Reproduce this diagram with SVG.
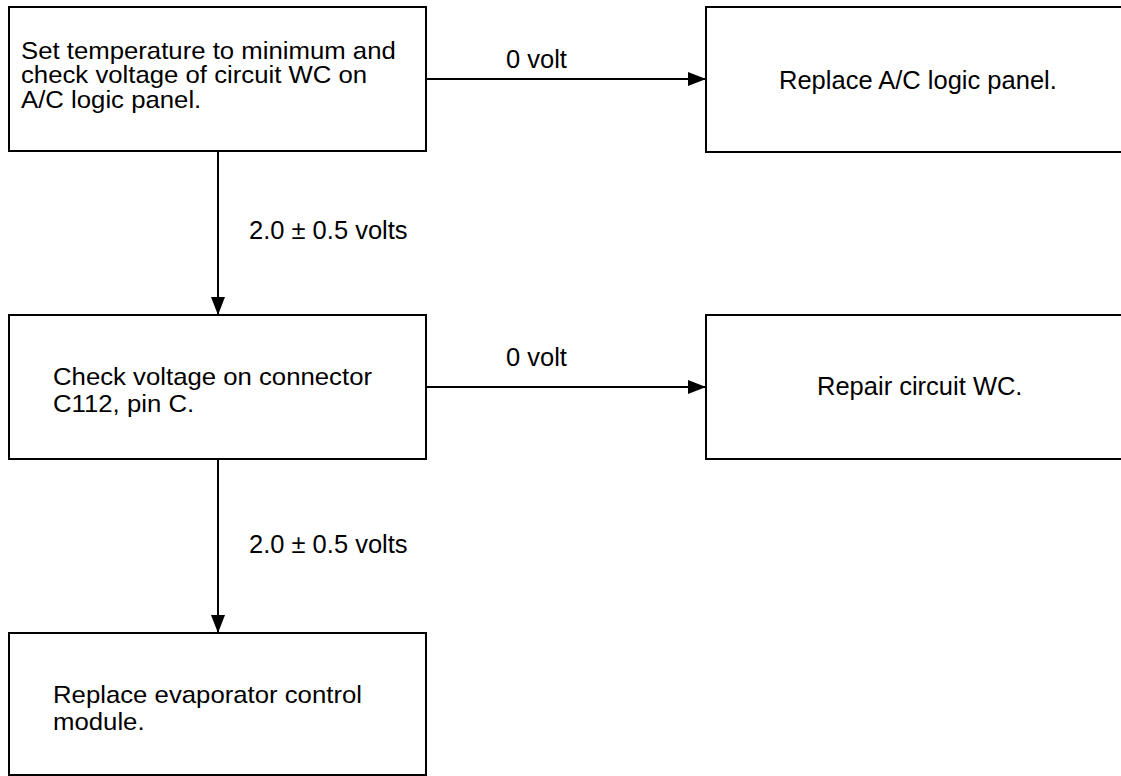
<svg xmlns="http://www.w3.org/2000/svg" width="1121" height="776" viewBox="0 0 1121 776">
<style>
.box{fill:#fff;stroke:#000;stroke-width:2}
.t{font-family:"Liberation Sans",Arial,sans-serif;font-size:25.5px;fill:#000}
.s{font-family:"Liberation Sans",Arial,sans-serif;font-size:24px;fill:#000}
.c{fill:none;stroke:#000;stroke-width:2}
</style>
<defs>
<marker id="ah" markerWidth="18" markerHeight="14" refX="18" refY="7" orient="auto" markerUnits="userSpaceOnUse">
<path d="M0,0 L18,7 L0,14 Z" fill="#000"/>
</marker>
</defs>
<rect width="1121" height="776" fill="#fff"/>
<g id="connectors">
<line class="c" x1="427" y1="79" x2="706" y2="79" marker-end="url(#ah)"/>
<text class="t" x="506" y="68">0 volt</text>
<line class="c" x1="218" y1="152" x2="218" y2="315" marker-end="url(#ah)"/>
<text class="t" x="249" y="239">2.0 ± 0.5 volts</text>
<line class="c" x1="427" y1="387" x2="706" y2="387" marker-end="url(#ah)"/>
<text class="t" x="506" y="366">0 volt</text>
<line class="c" x1="218" y1="460" x2="218" y2="633" marker-end="url(#ah)"/>
<text class="t" x="249" y="553">2.0 ± 0.5 volts</text>
</g>
<g id="n1">
<rect class="box" x="9" y="7" width="417" height="144"/>
<text class="s" transform="translate(21 59) scale(1.073 1)">Set temperature to minimum and</text>
<text class="s" transform="translate(21 83.3) scale(1.073 1)">check voltage of circuit WC on</text>
<text class="s" transform="translate(21 107.6) scale(1.073 1)">A/C logic panel.</text>
</g>
<g id="n2">
<rect class="box" x="706" y="7" width="420" height="145"/>
<text class="t" x="779" y="88.5">Replace A/C logic panel.</text>
</g>
<g id="n3">
<rect class="box" x="9" y="315" width="417" height="144"/>
<text class="s" transform="translate(53 385) scale(1.073 1)">Check voltage on connector</text>
<text class="s" transform="translate(53 411.7) scale(1.073 1)">C112, pin C.</text>
</g>
<g id="n4">
<rect class="box" x="706" y="315" width="420" height="144"/>
<text class="t" x="817" y="395">Repair circuit WC.</text>
</g>
<g id="n5">
<rect class="box" x="9" y="633" width="417" height="142"/>
<text class="s" transform="translate(53 703) scale(1.073 1)">Replace evaporator control</text>
<text class="s" transform="translate(53 730) scale(1.073 1)">module.</text>
</g>
</svg>
